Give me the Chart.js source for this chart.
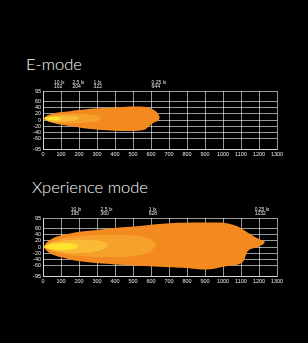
<!DOCTYPE html>
<html>
<head>
<meta charset="utf-8">
<script src="https://cdn.jsdelivr.net/npm/chart.js@4"></script>
<style>
  html, body { margin: 0; padding: 0; background: #000; }
  body { width: 308px; height: 343px; position: relative; overflow: hidden; }
  .title { position: absolute; color: #fff; font: 300 16.5px Lato, Roboto, "Liberation Sans", sans-serif; line-height: 1; white-space: nowrap; }
  .wrap { position: absolute; left: 0; width: 308px; height: 90px; }
</style>
</head>
<body>
<div class="title" style="left:26px; top:56px">E-mode</div>
<div class="wrap" style="top:75px"><canvas id="eChart" width="308" height="90"></canvas></div>
<div class="title" style="left:32px; top:179px">Xperience mode</div>
<div class="wrap" style="top:202px"><canvas id="xChart" width="308" height="90"></canvas></div>
<script>
// axis values
const xTicks = [0, 100, 200, 300, 400, 500, 600, 700, 800, 900, 1000, 1100, 1200, 1300];
const yTicks = [95, 60, 40, 20, 0, -20, -40, -60, -95];

// lux levels labelled above each chart
const luxLabels = ["10 lx", "2.5 lx", "1 lx", "0.25 lx"];
const eDistances = [102, 204, 322, 644];
const xDistances = [195, 360, 628, 1232];

// isolux contours, [distance m, width m]
const eLux025 = [[3, 5], [20, 14], [55, 21], [92, 25], [150, 29], [240, 35], [330, 39], [425, 42], [500, 44],
  [560, 43], [600, 38], [630, 27], [645, 14], [648, 8], [640, -2], [615, -9], [590, -20], [570, -30], [540, -34],
  [480, -36], [425, -36], [330, -33], [240, -28], [150, -20], [92, -15], [45, -7], [15, -1], [3, 5]];
const eLux1 = [[3, 5], [30, 12], [80, 17], [150, 20], [230, 19], [290, 15], [315, 10], [322, 5], [315, 0],
  [290, -5], [230, -9], [150, -11], [80, -10], [30, -5], [3, 5]];
const eLux25 = [[3, 5], [30, 10], [80, 14], [140, 15], [185, 12], [204, 6], [190, 1], [140, -4], [80, -6],
  [30, -3], [3, 5]];
const eLux10 = [[3, 5], [25, 9], [60, 11], [90, 9], [102, 5], [90, 1], [60, -1], [25, 1], [3, 5]];

const xLux025 = [[3, 0], [20, 15], [55, 29], [92, 37], [150, 44], [204, 50], [300, 56], [426, 64], [550, 70],
  [704, 78], [850, 80], [960, 80], [1018, 78], [1080, 68], [1130, 50], [1180, 32], [1215, 22], [1232, 17],
  [1225, 10], [1200, 2], [1160, -6], [1140, -12], [1128, -25], [1115, -45], [1095, -55], [1050, -61],
  [1000, -65], [950, -71], [907, -74], [850, -72], [777, -68], [700, -66], [592, -63], [450, -59], [350, -55],
  [204, -47], [120, -36], [55, -25], [20, -12], [3, 0]];
const xLux1 = [[3, 0], [50, 18], [120, 30], [250, 38], [400, 40], [520, 37], [590, 28], [620, 16], [628, 8],
  [615, -5], [580, -20], [500, -30], [400, -33], [250, -31], [120, -24], [50, -13], [3, 0]];
const xLux25 = [[3, 0], [40, 12], [100, 20], [200, 24], [290, 22], [340, 16], [360, 8], [350, -2], [310, -12],
  [220, -19], [120, -18], [50, -10], [3, 0]];
const xLux10 = [[3, 0], [30, 8], [80, 12], [150, 12], [185, 8], [195, 3], [185, -3], [150, -8], [80, -10],
  [30, -6], [3, 0]];

// inner (brightest) first: the filler paints the last dataset first
const FILLS = ["#fde32b", "#f9bb35", "#f6a02c", "#f28a1f"];
const TEXT = "#e6e6e6";
const GRID = "rgba(255,255,255,0.6)";
const TICK_FONT = { family: "'Liberation Sans', Arial, sans-serif", size: 5.5 };

// draws the "10 lx / 102" style markers above the plot
const luxMarks = {
  id: "luxMarks",
  afterDraw(chart, args, opts) {
    const { ctx, chartArea } = chart;
    const x = chart.scales.x;
    ctx.save();
    ctx.fillStyle = TEXT;
    ctx.font = "5px 'Liberation Sans', Arial, sans-serif";
    ctx.textBaseline = "middle";
    ctx.textAlign = "left";
    opts.distances.forEach((d, i) => {
      const num = String(d);
      const right = x.getPixelForValue(d) + 1;
      const left = right - ctx.measureText(num).width;
      ctx.fillText(luxLabels[i], left, chartArea.top - 8.5);
      ctx.fillText(num, left, chartArea.top - 4);
    });
    ctx.restore();
  }
};

function makeChart(id, contours, distances) {
  new Chart(document.getElementById(id), {
    type: "scatter",
    data: {
      datasets: contours.map((c, i) => ({
        data: c.map(([x, y]) => ({ x, y })),
        showLine: true,
        fill: "shape",
        backgroundColor: FILLS[i],
        borderWidth: 0,
        borderColor: "rgba(0,0,0,0)",
        pointRadius: 0,
        tension: 0.35,
      })),
    },
    options: {
      responsive: false,
      animation: false,
      layout: { padding: { top: 16, right: 31, left: 0, bottom: 0 } },
      plugins: { legend: { display: false }, tooltip: { enabled: false }, luxMarks: { distances } },
      scales: {
        x: {
          type: "linear", min: 0, max: 1300, z: 1,
          afterBuildTicks: s => { s.ticks = xTicks.map(v => ({ value: v })); },
          afterFit: s => { s.height = 16; },
          ticks: { color: TEXT, font: TICK_FONT, padding: 2, maxRotation: 0, autoSkip: false, callback: v => String(v) },
          grid: { color: GRID, lineWidth: 1, drawTicks: false },
          border: { color: GRID },
        },
        y: {
          type: "linear", min: -95, max: 95, z: 1,
          afterBuildTicks: s => { s.ticks = yTicks.map(v => ({ value: v })); },
          afterFit: s => { s.width = 43; },
          ticks: { color: TEXT, font: TICK_FONT, padding: 2, autoSkip: false, callback: v => String(v) },
          grid: { color: GRID, lineWidth: 1, drawTicks: false },
          border: { color: GRID },
        },
      },
    },
    plugins: [luxMarks],
  });
}

makeChart("eChart", [eLux10, eLux25, eLux1, eLux025], eDistances);
makeChart("xChart", [xLux10, xLux25, xLux1, xLux025], xDistances);
</script>
</body>
</html>
